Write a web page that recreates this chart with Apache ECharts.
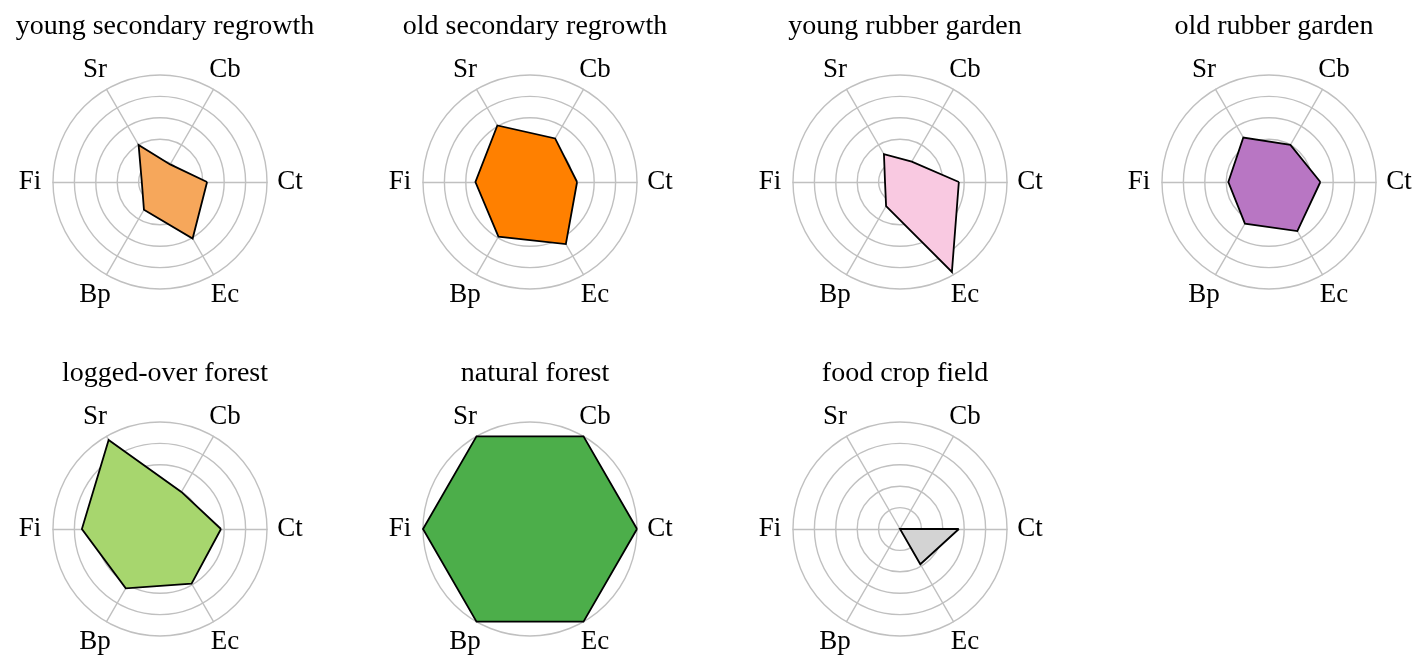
<!DOCTYPE html>
<html lang="en">
<head>
    <meta charset="UTF-8">
    <title>Land use radar</title>
    <script src="https://cdnjs.cloudflare.com/ajax/libs/echarts/6.0.0/echarts.min.js"></script>
    <style>
        html, body { margin: 0; padding: 0; background: #fff; }
        #chart { width: 1427px; height: 655px; }
    </style>
</head>
<body>
<div id="chart"></div>
<script>
    // axes, counter-clockwise from the right
    var indicatorNames = ['Ct', 'Cb', 'Sr', 'Fi', 'Bp', 'Ec'];

    var panelTitles = ['young secondary regrowth', 'old secondary regrowth', 'young rubber garden', 'old rubber garden',
        'logged-over forest', 'natural forest', 'food crop field'];

    var youngSecondary = [0.44, 0.19, 0.40, 0.17, 0.30, 0.61];
    var oldSecondary   = [0.44, 0.47, 0.61, 0.51, 0.59, 0.67];
    var youngRubber    = [0.55, 0.22, 0.30, 0.14, 0.26, 0.97];
    var oldRubber      = [0.48, 0.40, 0.48, 0.38, 0.45, 0.53];
    var loggedOver     = [0.57, 0.40, 0.96, 0.73, 0.64, 0.59];
    var naturalForest  = [1, 1, 1, 1, 1, 1];
    var foodCrop       = [0.55, 0, 0, 0, 0, 0.38];

    var panelValues = [youngSecondary, oldSecondary, youngRubber, oldRubber, loggedOver, naturalForest, foodCrop];
    var panelColors = ['#f6a75b', '#ff8000', '#f9c9e1', '#b876c3', '#a7d66e', '#4cae4a', '#d3d3d3'];

    var colX = [160, 530, 900, 1269];
    var rowY = [182, 529];
    var titleTop = [8, 355];

    var chart = echarts.init(document.getElementById('chart'));

    var titles = [], radars = [], series = [];
    panelTitles.forEach(function (name, i) {
        var col = i % 4, row = Math.floor(i / 4);
        titles.push({
            text: name,
            left: colX[col],
            top: titleTop[row],
            textAlign: 'center',
            textStyle: {fontFamily: 'Liberation Serif', fontSize: 28, fontWeight: 'normal', color: '#000'}
        });
        radars.push({
            center: [colX[col], rowY[row]],
            radius: 107,
            startAngle: 0,
            shape: 'circle',
            splitNumber: 5,
            indicator: indicatorNames.map(function (n) { return {name: n, min: 0, max: 1}; }),
            nameGap: 23,
            axisName: {
                fontFamily: 'Liberation Serif', fontSize: 27, color: '#000',
                align: 'center', verticalAlign: 'middle', padding: [4, 0, 0, 0]
            },
            axisLine: {lineStyle: {color: '#c0c0c0', width: 1.4}},
            splitLine: {lineStyle: {color: '#c0c0c0', width: 1.4}},
            splitArea: {show: false}
        });
        // fill first, then the outline on top so the fill does not cover half the stroke
        series.push({
            type: 'radar',
            radarIndex: i,
            symbol: 'none',
            lineStyle: {width: 0, opacity: 0},
            areaStyle: {color: panelColors[i], opacity: 1},
            data: [{value: panelValues[i], name: name}]
        });
        series.push({
            type: 'radar',
            radarIndex: i,
            symbol: 'none',
            lineStyle: {color: '#000', width: 1.8, join: 'miter'},
            data: [{value: panelValues[i], name: name}]
        });
    });

    chart.setOption({
        backgroundColor: '#fff',
        animation: false,
        title: titles,
        radar: radars,
        series: series
    });
</script>
</body>
</html>
